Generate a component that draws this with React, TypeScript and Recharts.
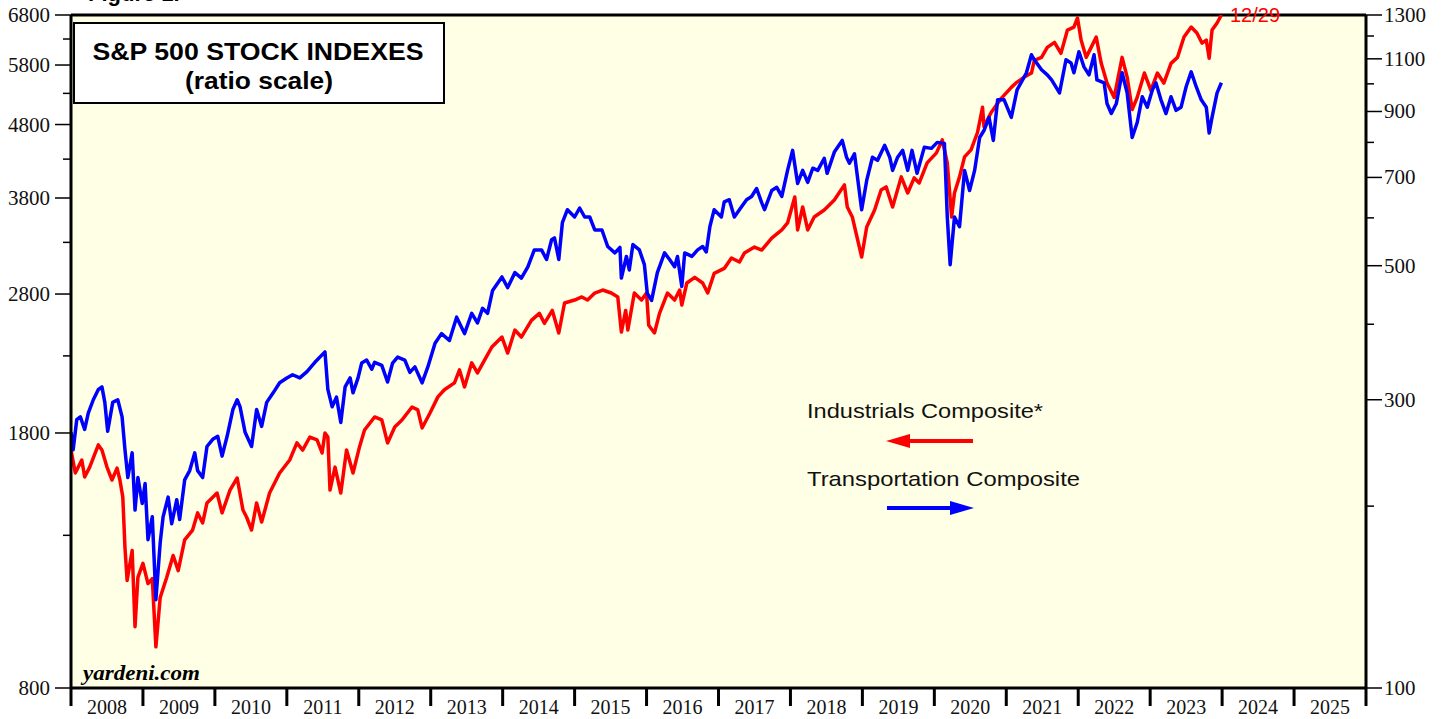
import React from 'react';
import { LineChart, Line, XAxis, YAxis, CartesianGrid, ReferenceLine } from 'recharts';

// S&P 500 Industrials Composite (left axis, ratio scale)
const indTime = [
  2008.00, 2008.06, 2008.15, 2008.19, 2008.26, 2008.38, 2008.43, 2008.50, 2008.57, 2008.64,
  2008.68, 2008.72, 2008.75, 2008.78, 2008.85, 2008.89, 2008.93, 2009.00, 2009.07, 2009.13,
  2009.18, 2009.24, 2009.33, 2009.42, 2009.49, 2009.58, 2009.69, 2009.76, 2009.83, 2009.89,
  2010.03, 2010.10, 2010.21, 2010.31, 2010.39, 2010.44, 2010.51, 2010.58, 2010.65, 2010.76,
  2010.90, 2011.04, 2011.14, 2011.22, 2011.32, 2011.42, 2011.49, 2011.53, 2011.57, 2011.60,
  2011.67, 2011.75, 2011.83, 2011.92, 2012.01, 2012.08, 2012.22, 2012.32, 2012.40, 2012.50,
  2012.60, 2012.74, 2012.82, 2012.88, 2012.99, 2013.10, 2013.19, 2013.33, 2013.40, 2013.47,
  2013.57, 2013.65, 2013.75, 2013.85, 2013.99, 2014.07, 2014.17, 2014.26, 2014.40, 2014.51,
  2014.58, 2014.69, 2014.78, 2014.86, 2015.00, 2015.10, 2015.18, 2015.28, 2015.39, 2015.51,
  2015.60, 2015.65, 2015.71, 2015.74, 2015.83, 2015.93, 2016.00, 2016.03, 2016.11, 2016.18,
  2016.29, 2016.39, 2016.46, 2016.49, 2016.56, 2016.67, 2016.78, 2016.85, 2016.94, 2017.08,
  2017.18, 2017.29, 2017.36, 2017.50, 2017.60, 2017.74, 2017.88, 2017.96, 2018.06, 2018.10,
  2018.17, 2018.24, 2018.33, 2018.47, 2018.61, 2018.75, 2018.79, 2018.86, 2018.99, 2019.06,
  2019.17, 2019.26, 2019.33, 2019.42, 2019.54, 2019.63, 2019.72, 2019.79, 2019.90, 2020.03,
  2020.11, 2020.18, 2020.24, 2020.28, 2020.35, 2020.42, 2020.51, 2020.60, 2020.67, 2020.69,
  2020.79, 2020.93, 2021.07, 2021.15, 2021.25, 2021.35, 2021.39, 2021.49, 2021.57, 2021.67,
  2021.76, 2021.85, 2021.94, 2021.99, 2022.04, 2022.11, 2022.18, 2022.25, 2022.32, 2022.40,
  2022.50, 2022.61, 2022.68, 2022.75, 2022.82, 2022.92, 2023.01, 2023.10, 2023.19, 2023.29,
  2023.38, 2023.47, 2023.57, 2023.65, 2023.72, 2023.78, 2023.82, 2023.86, 2023.93, 2023.99,
];
const indValue = [
  1705, 1585, 1652, 1565, 1615, 1733, 1705, 1615, 1550, 1610,
  1550, 1468, 1251, 1126, 1239, 972, 1137, 1189, 1115, 1133,
  912, 1067, 1137, 1219, 1162, 1281, 1322, 1396, 1352, 1441,
  1487, 1396, 1501, 1560, 1409, 1378, 1322, 1441, 1356, 1487,
  1585, 1652, 1744, 1705, 1777, 1761, 1689, 1800, 1777, 1501,
  1615, 1487, 1705, 1585, 1722, 1817, 1894, 1876, 1744, 1835,
  1876, 1955, 1937, 1829, 1918, 2019, 2065, 2111, 2200, 2084,
  2250, 2179, 2271, 2366, 2442, 2321, 2497, 2442, 2575, 2633,
  2551, 2658, 2474, 2721, 2747, 2774, 2747, 2809, 2836, 2809,
  2774, 2481, 2658, 2497, 2809, 2747, 2809, 2535, 2474, 2633,
  2809, 2747, 2836, 2704, 2900, 2953, 2900, 2809, 2990, 3038,
  3140, 3100, 3190, 3251, 3220, 3346, 3433, 3510, 3812, 3433,
  3693, 3433, 3577, 3658, 3776, 3962, 3693, 3577, 3150, 3465,
  3658, 3898, 3937, 3693, 4064, 3861, 4051, 3987, 4249, 4386,
  4571, 4249, 3577, 3861, 4064, 4331, 4428, 4680, 5070, 4770,
  4987, 5217, 5402, 5494, 5582, 5654, 5887, 5943, 6135, 6233,
  6019, 6482, 6544, 6735, 6279, 5943, 6135, 6339, 5831, 5477,
  5233, 5943, 5582, 5034, 5233, 5654, 5351, 5654, 5477, 5831,
  5943, 6339, 6544, 6420, 6219, 6279, 5925, 6482, 6630, 6800,
];

// S&P 500 Transportation Composite (right axis, ratio scale)
const trnTime = [
  2008.00, 2008.03, 2008.08, 2008.13, 2008.19, 2008.24, 2008.31, 2008.38, 2008.43, 2008.47,
  2008.51, 2008.58, 2008.65, 2008.71, 2008.75, 2008.79, 2008.85, 2008.89, 2008.93, 2008.99,
  2009.03, 2009.07, 2009.13, 2009.18, 2009.24, 2009.28, 2009.35, 2009.40, 2009.47, 2009.51,
  2009.58, 2009.65, 2009.72, 2009.76, 2009.83, 2009.89, 2009.97, 2010.04, 2010.10, 2010.17,
  2010.25, 2010.31, 2010.35, 2010.42, 2010.51, 2010.58, 2010.65, 2010.72, 2010.81, 2010.90,
  2011.00, 2011.08, 2011.18, 2011.28, 2011.39, 2011.53, 2011.57, 2011.63, 2011.69, 2011.75,
  2011.81, 2011.88, 2011.92, 2011.99, 2012.04, 2012.11, 2012.18, 2012.22, 2012.32, 2012.40,
  2012.47, 2012.54, 2012.64, 2012.71, 2012.78, 2012.88, 2012.96, 2013.06, 2013.15, 2013.26,
  2013.36, 2013.47, 2013.57, 2013.65, 2013.72, 2013.79, 2013.86, 2013.99, 2014.07, 2014.17,
  2014.26, 2014.35, 2014.44, 2014.54, 2014.61, 2014.68, 2014.72, 2014.78, 2014.83, 2014.90,
  2015.00, 2015.07, 2015.14, 2015.21, 2015.28, 2015.38, 2015.46, 2015.56, 2015.63, 2015.65,
  2015.72, 2015.76, 2015.81, 2015.90, 2015.97, 2016.01, 2016.07, 2016.15, 2016.25, 2016.32,
  2016.39, 2016.43, 2016.49, 2016.53, 2016.63, 2016.71, 2016.78, 2016.83, 2016.88, 2016.94,
  2017.04, 2017.08, 2017.15, 2017.22, 2017.32, 2017.39, 2017.46, 2017.53, 2017.60, 2017.64,
  2017.74, 2017.81, 2017.88, 2017.96, 2018.03, 2018.10, 2018.17, 2018.24, 2018.31, 2018.38,
  2018.47, 2018.51, 2018.61, 2018.72, 2018.78, 2018.82, 2018.89, 2018.99, 2019.06, 2019.14,
  2019.21, 2019.31, 2019.38, 2019.42, 2019.49, 2019.56, 2019.63, 2019.69, 2019.76, 2019.86,
  2019.96, 2020.04, 2020.14, 2020.18, 2020.22, 2020.28, 2020.35, 2020.42, 2020.49, 2020.56,
  2020.63, 2020.69, 2020.76, 2020.82, 2020.88, 2020.97, 2021.07, 2021.15, 2021.28, 2021.35,
  2021.39, 2021.49, 2021.57, 2021.63, 2021.74, 2021.83, 2021.90, 2021.94, 2022.01, 2022.08,
  2022.15, 2022.22, 2022.26, 2022.36, 2022.40, 2022.46, 2022.53, 2022.61, 2022.68, 2022.75,
  2022.82, 2022.89, 2022.96, 2023.03, 2023.08, 2023.15, 2023.22, 2023.29, 2023.36, 2023.43,
  2023.50, 2023.57, 2023.64, 2023.71, 2023.78, 2023.82, 2023.86, 2023.93, 2023.99,
];
const trnValue = [
  265, 248, 278, 281, 268, 285, 300, 312, 315, 297,
  266, 297, 300, 281, 248, 223, 245, 197, 223, 202,
  218, 176, 192, 140, 174, 192, 207, 187, 205, 190,
  221, 229, 245, 229, 223, 251, 258, 261, 242, 261,
  289, 300, 292, 265, 251, 289, 271, 297, 308, 320,
  326, 330, 326, 334, 346, 360, 312, 292, 303, 275,
  315, 326, 308, 326, 345, 349, 337, 346, 342, 321,
  345, 353, 349, 333, 340, 320, 340, 372, 386, 376,
  411, 386, 417, 402, 425, 417, 455, 479, 460, 487,
  477, 498, 531, 531, 512, 552, 556, 512, 589, 619,
  602, 623, 602, 602, 573, 573, 538, 525, 536, 477,
  518, 492, 542, 531, 502, 450, 438, 487, 525, 512,
  498, 518, 462, 525, 518, 531, 538, 527, 580, 619,
  602, 638, 643, 602, 626, 643, 651, 671, 636, 619,
  666, 674, 651, 719, 776, 684, 719, 687, 725, 719,
  753, 711, 771, 806, 756, 739, 766, 619, 692, 756,
  747, 791, 756, 719, 756, 776, 719, 776, 711, 785,
  782, 800, 797, 602, 502, 602, 580, 719, 666, 719,
  815, 837, 880, 806, 941, 941, 880, 977, 1043, 1117,
  1096, 1055, 1035, 1015, 966, 1096, 1083, 1043, 1130, 1067,
  1035, 1117, 1015, 1004, 928, 893, 928, 1043, 966, 815,
  863, 952, 915, 977, 1004, 941, 893, 952, 904, 915,
  989, 1047, 989, 941, 915, 829, 880, 966, 1004,
];

const yearTicks = [2008, 2009, 2010, 2011, 2012, 2013, 2014, 2015, 2016, 2017, 2018, 2019, 2020, 2021, 2022, 2023, 2024, 2025, 2026];
const leftTicks = [800, 1300, 1800, 2300, 2800, 3300, 3800, 4300, 4800, 5300, 5800, 6300, 6800];
const leftLabels = [800, 1800, 2800, 3800, 4800, 5800, 6800];
const rightTicks = [100, 200, 300, 400, 500, 600, 700, 800, 900, 1000, 1100, 1200, 1300];
const rightLabels = [100, 300, 500, 700, 900, 1100, 1300];

const indData = indTime.map((t, i) => ({ t, v: indValue[i] }));
const trnData = trnTime.map((t, i) => ({ t, v: trnValue[i] }));

const SERIF = '"Liberation Serif", "Times New Roman", serif';
const SANS = '"Liberation Sans", Arial, sans-serif';

function LeftTick(props: any) {
  const { x, y, payload } = props;
  const v = payload.value;
  const major = leftLabels.includes(v);
  return (
    <g>
      <line x1={x} x2={x - (major ? 16 : 8)} y1={y} y2={y} stroke="#000" strokeWidth={1.5} />
      {major && (
        <text x={x - 21} y={y} textAnchor="end" dominantBaseline="central" fontFamily={SERIF} fontSize={21} fill="#111">
          {v}
        </text>
      )}
    </g>
  );
}

function RightTick(props: any) {
  const { x, y, payload } = props;
  const v = payload.value;
  const major = rightLabels.includes(v);
  return (
    <g>
      <line x1={x} x2={x + (major ? 16 : 8)} y1={y} y2={y} stroke="#000" strokeWidth={1.5} />
      {major && (
        <text x={x + 18} y={y} textAnchor="start" dominantBaseline="central" fontFamily={SERIF} fontSize={21} fill="#111">
          {v}
        </text>
      )}
    </g>
  );
}

function YearTick(props: any) {
  const { x, y, payload } = props;
  const v = payload.value;
  return (
    <g>
      <line x1={x} x2={x} y1={y} y2={y + 18} stroke="#000" strokeWidth={3} />
      {v < 2026 && (
        <text x={x + 36} y={y + 26} textAnchor="middle" fontFamily={SERIF} fontSize={20} fill="#111">
          {v}
        </text>
      )}
    </g>
  );
}

export default function App() {
  return (
    <div style={{ position: 'absolute', left: 0, top: 0, width: 1448, height: 719, background: '#fff', overflow: 'hidden' }}>
      <LineChart width={1448} height={719} margin={{ top: 15, right: 0, bottom: 0, left: 0 }}>
        <CartesianGrid yAxisId="left" fill="#FFFFE5" horizontal={false} vertical={false} />
        <XAxis
          dataKey="t"
          type="number"
          domain={[2008, 2026]}
          ticks={yearTicks}
          allowDataOverflow
          interval={0}
          height={31}
          axisLine={{ stroke: '#000', strokeWidth: 3 }}
          tickLine={false}
          tickSize={0}
          tickMargin={0}
          tick={(p: any) => <YearTick {...p} />}
        />
        <YAxis
          yAxisId="left"
          orientation="left"
          scale="log"
          domain={[800, 6800]}
          ticks={leftTicks}
          allowDataOverflow
          interval={0}
          width={71}
          axisLine={{ stroke: '#000', strokeWidth: 3 }}
          tickLine={false}
          tickSize={0}
          tickMargin={0}
          tick={(p: any) => <LeftTick {...p} />}
        />
        <YAxis
          yAxisId="right"
          orientation="right"
          scale="log"
          domain={[100, 1300]}
          ticks={rightTicks}
          allowDataOverflow
          interval={0}
          width={82}
          axisLine={{ stroke: '#000', strokeWidth: 3 }}
          tickLine={false}
          tickSize={0}
          tickMargin={0}
          tick={(p: any) => <RightTick {...p} />}
        />
        <ReferenceLine yAxisId="left" y={6800} stroke="#000" strokeWidth={3} />
        <Line yAxisId="left" data={indData} dataKey="v" type="linear" stroke="#FF0000" strokeWidth={3.5} strokeLinejoin="round" dot={false} isAnimationActive={false} />
        <Line yAxisId="right" data={trnData} dataKey="v" type="linear" stroke="#0000FF" strokeWidth={3.5} strokeLinejoin="round" dot={false} isAnimationActive={false} />
      </LineChart>
      <svg width={1448} height={719} style={{ position: 'absolute', left: 0, top: 0, pointerEvents: 'none' }}>
        <text x={88} y={1} fontFamily={SANS} fontWeight="bold" fontSize={22} fill="#000">Figure 1.</text>
        <rect x={74} y={23} width={370} height={80} fill="#fff" stroke="#000" strokeWidth={2} />
        <text x={258} y={60} textAnchor="middle" fontFamily={SANS} fontWeight="bold" fontSize={24} textLength={331} lengthAdjust="spacingAndGlyphs" fill="#000">
          S&amp;P 500 STOCK INDEXES
        </text>
        <text x={259} y={89} textAnchor="middle" fontFamily={SANS} fontWeight="bold" fontSize={24} textLength={148} lengthAdjust="spacingAndGlyphs" fill="#000">
          (ratio scale)
        </text>
        <text x={807} y={418} fontFamily={SANS} fontSize={21} textLength={236} lengthAdjust="spacingAndGlyphs" fill="#111">
          Industrials Composite*
        </text>
        <line x1={973} x2={900} y1={441} y2={441} stroke="#FF0000" strokeWidth={4} />
        <polygon points="886,441 910,434 910,448" fill="#FF0000" />
        <text x={807} y={486} fontFamily={SANS} fontSize={21} textLength={273} lengthAdjust="spacingAndGlyphs" fill="#111">
          Transportation Composite
        </text>
        <line x1={887} x2={960} y1={508} y2={508} stroke="#0000FF" strokeWidth={4} />
        <polygon points="974,508 950,501 950,515" fill="#0000FF" />
        <text x={1230} y={22} fontFamily={SANS} fontSize={20} fill="#FF0000">12/29</text>
        <text x={83} y={680} fontFamily={SERIF} fontWeight="bold" fontStyle="italic" fontSize={20} textLength={117} lengthAdjust="spacingAndGlyphs" fill="#000">
          yardeni.com
        </text>
      </svg>
    </div>
  );
}
